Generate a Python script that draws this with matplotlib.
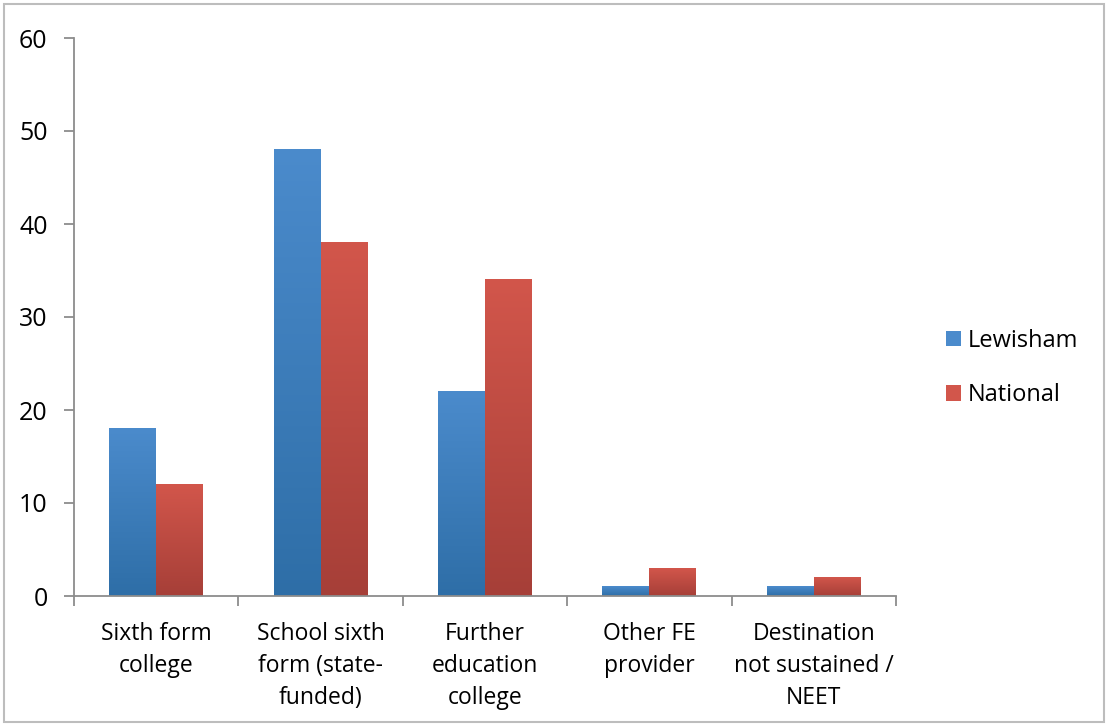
import numpy as np
import matplotlib
matplotlib.use("Agg")
import matplotlib.pyplot as plt
from matplotlib.patches import Rectangle, Patch
from matplotlib.colors import LinearSegmentedColormap

categories = ["Sixth form\ncollege", "School sixth\nform (state-\nfunded)",
              "Further\neducation\ncollege", "Other FE\nprovider",
              "Destination\nnot sustained /\nNEET"]
series_names = ["Lewisham", "National"]
lewisham = [18, 48, 22, 1, 1]
national = [12, 38, 34, 3, 2]

# top colour, bottom colour for each series
colours = [("#4b8bcc", "#2e6ea7"), ("#d2564b", "#a63f38")]

plt.rcParams["font.family"] = ["Open Sans", "DejaVu Sans"]

fig = plt.figure(figsize=(11.12, 7.26), dpi=100)
ax = fig.add_axes([74 / 1112, 1 - 596 / 726, (896 - 74) / 1112, (596 - 38) / 726])

width = 1 / 3.5
x = np.arange(len(categories))
grad = np.linspace(0, 1, 256).reshape(-1, 1)

for i, (vals, (top, bottom)) in enumerate(zip([lewisham, national], colours)):
    cmap = LinearSegmentedColormap.from_list("g", [bottom, top])
    xs = x - width + i * width
    bars = ax.bar(xs, vals, width, align="edge", color="none", edgecolor="none", zorder=2)
    for b in bars:
        x0, y0 = b.get_x(), b.get_y()
        w, h = b.get_width(), b.get_height()
        ax.imshow(grad, cmap=cmap, origin="lower", aspect="auto",
                  extent=[x0, x0 + w, y0, y0 + h], zorder=2)

ax.set_xlim(-0.5, len(categories) - 0.5)
ax.set_ylim(0, 60)
ax.set_yticks(range(0, 61, 10))

ax.set_xticks(np.arange(-0.5, len(categories), 1))
ax.set_xticklabels([])
ax.set_xticks(x, minor=True)
ax.set_xticklabels(categories, minor=True, fontsize=16.5, linespacing=1.43, va="top")
ax.tick_params(axis="x", which="minor", length=0, pad=19)
ax.tick_params(axis="x", which="major", length=7, width=1.3, color="#8c8c8c")
ax.tick_params(axis="y", length=7, width=1.3, color="#8c8c8c", labelsize=18, pad=12)

for s in ["top", "right"]:
    ax.spines[s].set_visible(False)
for s in ["left", "bottom"]:
    ax.spines[s].set_color("#8c8c8c")
    ax.spines[s].set_linewidth(1.3)

handles = [Patch(facecolor=c[0], edgecolor="none") for c in colours]
fig.legend(handles, series_names, loc="center left", bbox_to_anchor=(946 / 1112, 1 - 368 / 726),
           frameon=False, fontsize=17, handlelength=0.62, handleheight=0.62,
           handletextpad=0.3, labelspacing=1.3, borderpad=0, borderaxespad=0)

fig.patches.append(Rectangle((4 / 1112, 1 - 722 / 726), 1100 / 1112, 718 / 726,
                             transform=fig.transFigure, fill=False,
                             edgecolor="#bdbdbd", linewidth=1.5))

fig.savefig("out.png", dpi=100)
